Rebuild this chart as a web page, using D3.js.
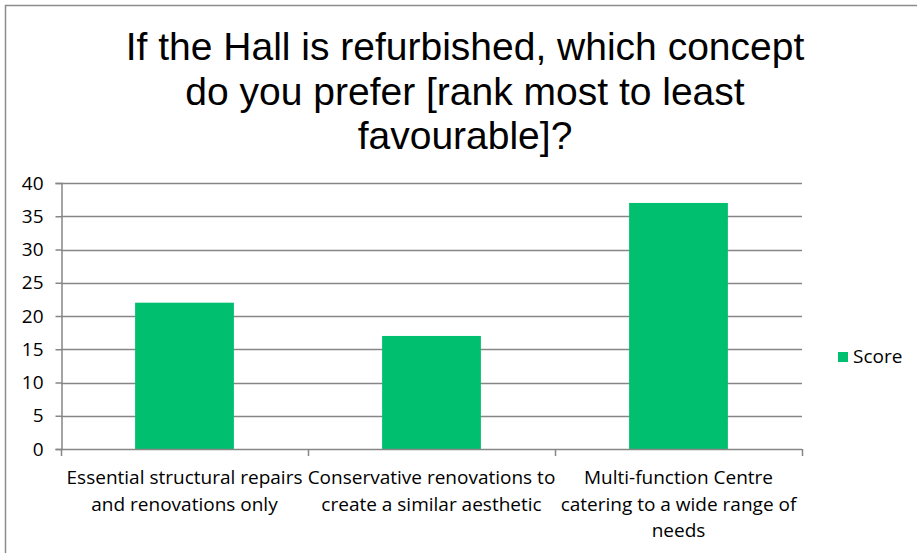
<!DOCTYPE html>
<html>
<head>
<meta charset="utf-8">
<script src="https://cdn.jsdelivr.net/npm/d3@7"></script>
<style>
  html, body { margin: 0; padding: 0; background: #fff; }
  svg { display: block; }
</style>
</head>
<body>
<svg id="chart" width="917" height="553"></svg>
<script>
const titleLines = ["If the Hall is refurbished, which concept", "do you prefer [rank most to least", "favourable]?"];
const categories = [
  ["Essential structural repairs", "and renovations only"],
  ["Conservative renovations to", "create a similar aesthetic"],
  ["Multi-function Centre", "catering to a wide range of", "needs"]
];
const seriesName = "Score";
const scores = [22, 17, 37];
const yTicks = [0, 5, 10, 15, 20, 25, 30, 35, 40];

const W = 917, H = 553;
const plot = { left: 61, right: 802, top: 183, bottom: 449 };
const green = "#00c070";
const gridColor = "#868686";
const labelFont = "'Open Sans', sans-serif";

const svg = d3.select("#chart");

// outer border
svg.append("rect")
  .attr("x", 5.5).attr("y", 5.5)
  .attr("width", W + 10).attr("height", H + 10)
  .attr("fill", "#fff")
  .attr("stroke", "#8c8c8c").attr("stroke-width", 1.5);

// title
const title = svg.append("text")
  .attr("text-anchor", "middle")
  .attr("font-family", "'Liberation Sans', Arial, sans-serif")
  .attr("font-size", 39)
  .attr("fill", "#000");
titleLines.forEach((t, i) => {
  title.append("tspan").attr("x", 465).attr("y", 60 + i * 44.5).text(t);
});

const x = d3.scaleBand()
  .domain(d3.range(categories.length))
  .range([plot.left, plot.right])
  .paddingInner(0.6).paddingOuter(0.3);
const step = (plot.right - plot.left) / categories.length;

const y = d3.scaleLinear().domain([0, 40]).range([plot.bottom, plot.top]);

// gridlines
svg.append("g")
  .selectAll("line").data(yTicks.filter(d => d > 0)).join("line")
  .attr("x1", plot.left).attr("x2", plot.right)
  .attr("y1", d => Math.round(y(d)) + 0.5).attr("y2", d => Math.round(y(d)) + 0.5)
  .attr("stroke", gridColor).attr("stroke-width", 1.5);

// y axis
const yAxis = svg.append("g")
  .attr("transform", `translate(${plot.left + 0.5},0)`)
  .call(d3.axisLeft(y).tickValues(yTicks).tickSize(6).tickPadding(12));
yAxis.select(".domain").attr("stroke", gridColor).attr("stroke-width", 1.5);
yAxis.selectAll(".tick line").attr("stroke", gridColor).attr("stroke-width", 1.5);
yAxis.selectAll(".tick text")
  .attr("font-family", labelFont).attr("font-size", 19).attr("fill", "#000");

// bars
svg.append("g")
  .selectAll("rect").data(scores).join("rect")
  .attr("x", (d, i) => x(i))
  .attr("width", x.bandwidth())
  .attr("y", d => y(d))
  .attr("height", d => y(0) - y(d))
  .attr("fill", green);

// x axis baseline and ticks
const xb = svg.append("g");
xb.append("line")
  .attr("x1", plot.left).attr("x2", plot.right)
  .attr("y1", plot.bottom + 0.5).attr("y2", plot.bottom + 0.5)
  .attr("stroke", gridColor).attr("stroke-width", 1.5);
xb.selectAll("line.tk").data(d3.range(categories.length + 1)).join("line")
  .attr("class", "tk")
  .attr("x1", i => plot.left + i * step + 0.5).attr("x2", i => plot.left + i * step + 0.5)
  .attr("y1", plot.bottom).attr("y2", plot.bottom + 7)
  .attr("stroke", gridColor).attr("stroke-width", 1.5);

// category labels
categories.forEach((lines, i) => {
  const t = svg.append("text")
    .attr("text-anchor", "middle")
    .attr("font-family", labelFont)
    .attr("font-size", 19)
    .attr("fill", "#000");
  lines.forEach((l, j) => {
    t.append("tspan").attr("x", x(i) + x.bandwidth() / 2).attr("y", 484 + j * 26.5).text(l);
  });
});

// legend
const lg = svg.append("g").attr("transform", "translate(838,352)");
lg.append("rect").attr("width", 10).attr("height", 10).attr("fill", green);
lg.append("text").attr("x", 15).attr("y", 11)
  .attr("font-family", labelFont).attr("font-size", 19).attr("fill", "#000")
  .text(seriesName);
</script>
</body>
</html>
